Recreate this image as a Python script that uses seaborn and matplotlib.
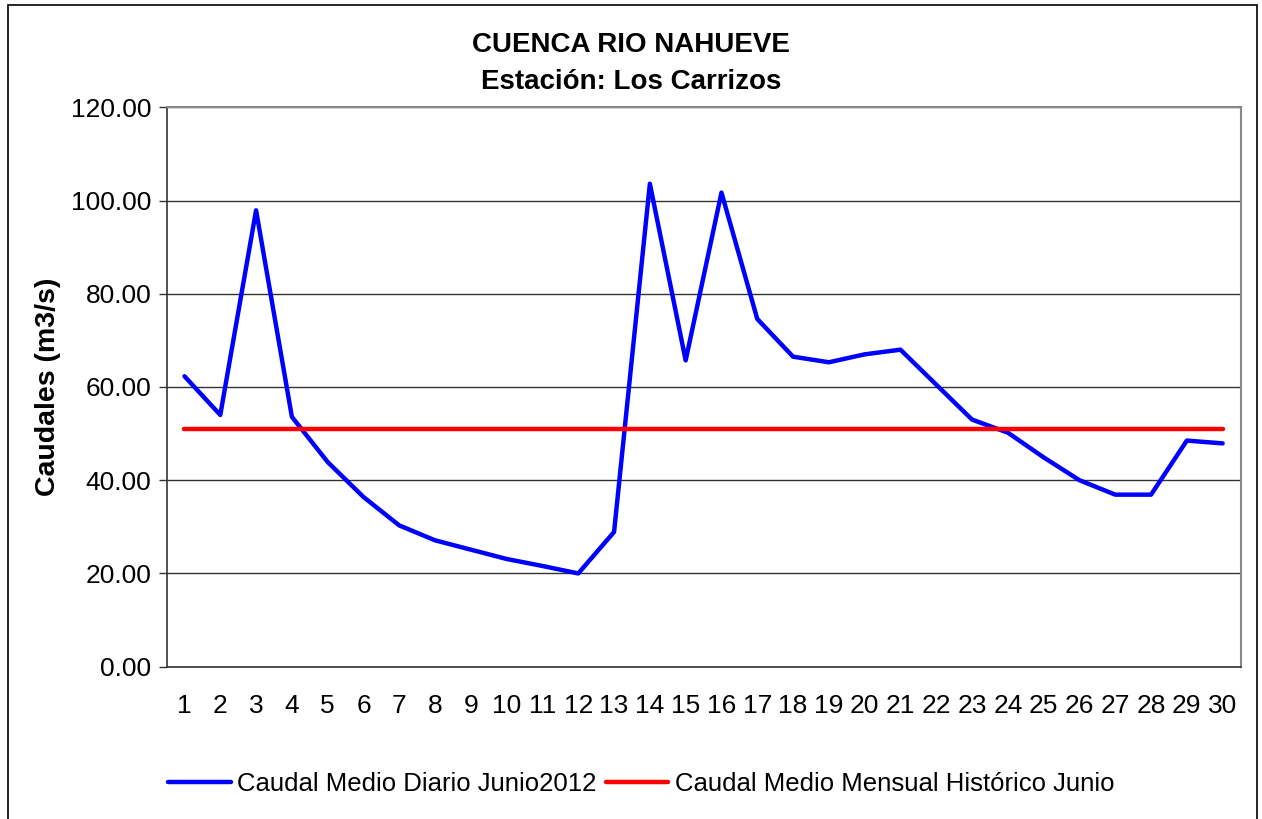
import matplotlib
matplotlib.use("Agg")
import matplotlib.pyplot as plt
import seaborn as sns
import pandas as pd
from matplotlib.patches import Rectangle

# data
dias = list(range(1, 31))
caudal_diario = [62.3, 54.0, 97.9, 53.6, 43.9, 36.4, 30.3, 27.1, 25.1, 23.1,
                 21.6, 20.0, 28.9, 103.6, 65.7, 101.7, 74.6, 66.5, 65.3, 67.0,
                 68.0, 60.5, 53.0, 50.2, 44.9, 40.0, 36.9, 36.9, 48.5, 47.9]
caudal_historico = [51.0] * 30
y_ticks = [0, 20, 40, 60, 80, 100, 120]

df = pd.DataFrame({
    "dia": dias * 2,
    "caudal": caudal_diario + caudal_historico,
    "serie": ["Caudal Medio Diario Junio2012"] * 30
             + ["Caudal Medio Mensual Histórico Junio"] * 30,
})

sns.set_style("white")
plt.rcParams["font.family"] = ["Liberation Sans", "DejaVu Sans"]
plt.rcParams["text.color"] = "black"
plt.rcParams["axes.labelcolor"] = "black"
plt.rcParams["xtick.color"] = "black"
plt.rcParams["ytick.color"] = "black"

fig = plt.figure(figsize=(12.62, 8.19), dpi=100)
ax = fig.add_axes([0.132, 0.186, 0.851, 0.683])

sns.lineplot(data=df, x="dia", y="caudal", hue="serie",
             palette=["#0000FF", "#FF0000"], linewidth=3.2, ax=ax,
             legend=False)

ax.set_xlim(0.5, 30.5)
ax.set_ylim(0, 120)
ax.set_yticks(y_ticks)
ax.set_yticklabels([f"{v:.2f}" for v in y_ticks], fontsize=19)
ax.set_xticks(dias)
ax.set_xticklabels([str(d) for d in dias], fontsize=19)
ax.set_xticks([d + 0.5 for d in range(0, 31)], minor=True)
ax.tick_params(axis="x", which="major", length=0, pad=20)
ax.tick_params(axis="x", which="minor", length=6, width=1, color="#333333",
               direction="out")
ax.tick_params(axis="y", length=6, width=1, color="#333333", direction="out",
               left=True, pad=5)
ax.yaxis.grid(True, color="#333333", linewidth=1)
ax.set_axisbelow(True)

ax.set_xlabel("")
ax.set_ylabel("Caudales (m3/s)", fontsize=20.5, fontweight="bold", labelpad=7)

for side in ["top", "right"]:
    ax.spines[side].set_visible(True)
    ax.spines[side].set_color("#888888")
    ax.spines[side].set_linewidth(1.5)
for side in ["left", "bottom"]:
    ax.spines[side].set_color("#333333")
    ax.spines[side].set_linewidth(1.2)

fig.text(0.50, 0.945, "CUENCA RIO NAHUEVE", ha="center", va="center",
         fontsize=20, fontweight="bold")
fig.text(0.50, 0.900, "Estación: Los Carrizos", ha="center", va="center",
         fontsize=20, fontweight="bold")

handles = [plt.Line2D([], [], color="#0000FF", linewidth=3.2),
           plt.Line2D([], [], color="#FF0000", linewidth=3.2)]
fig.legend(handles, ["Caudal Medio Diario Junio2012",
                     "Caudal Medio Mensual Histórico Junio"],
           loc="center", bbox_to_anchor=(0.508, 0.043), ncol=2, frameon=False,
           fontsize=18.5, handlelength=2.45, handletextpad=0.25,
           columnspacing=0.35)

# outer border of the chart
fig.patches.append(Rectangle((0.006, -0.01), 0.99, 1.004, transform=fig.transFigure,
                             fill=False, edgecolor="black", linewidth=1.2))

fig.savefig("out.png", dpi=100)
